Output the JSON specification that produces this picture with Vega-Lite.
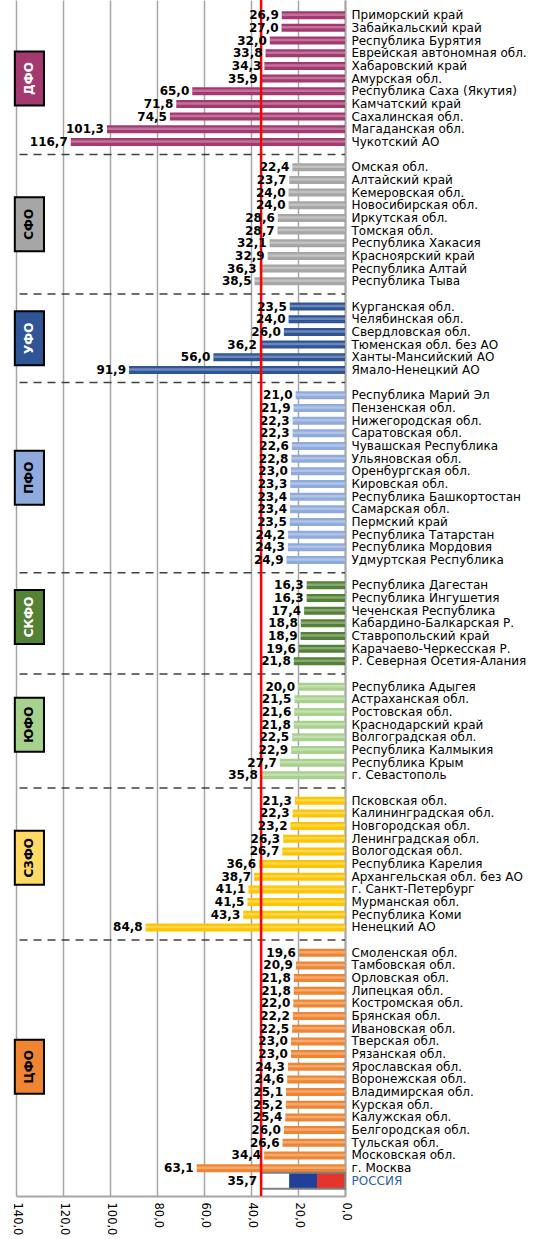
{
  "$schema": "https://vega.github.io/schema/vega-lite/v6.json",
  "width": 329,
  "height": 1196,
  "autosize": "none",
  "padding": {"left": 16, "top": 0, "right": 192, "bottom": 43},
  "config": {"view": {"stroke": null}, "font": "DejaVu Sans"},
  "datasets": {
    "regions": [
      {"region": "Приморский край", "value": 26.9, "grp": "ДФО"},
      {"region": "Забайкальский край", "value": 27.0, "grp": "ДФО"},
      {"region": "Республика Бурятия", "value": 32.0, "grp": "ДФО"},
      {"region": "Еврейская автономная обл.", "value": 33.8, "grp": "ДФО"},
      {"region": "Хабаровский край", "value": 34.3, "grp": "ДФО"},
      {"region": "Амурская обл.", "value": 35.9, "grp": "ДФО"},
      {"region": "Республика Саха (Якутия)", "value": 65.0, "grp": "ДФО"},
      {"region": "Камчатский край", "value": 71.8, "grp": "ДФО"},
      {"region": "Сахалинская обл.", "value": 74.5, "grp": "ДФО"},
      {"region": "Магаданская обл.", "value": 101.3, "grp": "ДФО"},
      {"region": "Чукотский АО", "value": 116.7, "grp": "ДФО"},
      {"region": "Омская обл.", "value": 22.4, "grp": "СФО"},
      {"region": "Алтайский край", "value": 23.7, "grp": "СФО"},
      {"region": "Кемеровская обл.", "value": 24.0, "grp": "СФО"},
      {"region": "Новосибирская обл.", "value": 24.0, "grp": "СФО"},
      {"region": "Иркутская обл.", "value": 28.6, "grp": "СФО"},
      {"region": "Томская обл.", "value": 28.7, "grp": "СФО"},
      {"region": "Республика Хакасия", "value": 32.1, "grp": "СФО"},
      {"region": "Красноярский край", "value": 32.9, "grp": "СФО"},
      {"region": "Республика Алтай", "value": 36.3, "grp": "СФО"},
      {"region": "Республика Тыва", "value": 38.5, "grp": "СФО"},
      {"region": "Курганская обл.", "value": 23.5, "grp": "УФО"},
      {"region": "Челябинская обл.", "value": 24.0, "grp": "УФО"},
      {"region": "Свердловская обл.", "value": 26.0, "grp": "УФО"},
      {"region": "Тюменская обл. без АО", "value": 36.2, "grp": "УФО"},
      {"region": "Ханты-Мансийский АО", "value": 56.0, "grp": "УФО"},
      {"region": "Ямало-Ненецкий АО", "value": 91.9, "grp": "УФО"},
      {"region": "Республика Марий Эл", "value": 21.0, "grp": "ПФО"},
      {"region": "Пензенская обл.", "value": 21.9, "grp": "ПФО"},
      {"region": "Нижегородская обл.", "value": 22.3, "grp": "ПФО"},
      {"region": "Саратовская обл.", "value": 22.3, "grp": "ПФО"},
      {"region": "Чувашская Республика", "value": 22.6, "grp": "ПФО"},
      {"region": "Ульяновская обл.", "value": 22.8, "grp": "ПФО"},
      {"region": "Оренбургская обл.", "value": 23.0, "grp": "ПФО"},
      {"region": "Кировская обл.", "value": 23.3, "grp": "ПФО"},
      {"region": "Республика Башкортостан", "value": 23.4, "grp": "ПФО"},
      {"region": "Самарская обл.", "value": 23.4, "grp": "ПФО"},
      {"region": "Пермский край", "value": 23.5, "grp": "ПФО"},
      {"region": "Республика Татарстан", "value": 24.2, "grp": "ПФО"},
      {"region": "Республика Мордовия", "value": 24.3, "grp": "ПФО"},
      {"region": "Удмуртская Республика", "value": 24.9, "grp": "ПФО"},
      {"region": "Республика Дагестан", "value": 16.3, "grp": "СКФО"},
      {"region": "Республика Ингушетия", "value": 16.3, "grp": "СКФО"},
      {"region": "Чеченская Республика", "value": 17.4, "grp": "СКФО"},
      {"region": "Кабардино-Балкарская Р.", "value": 18.8, "grp": "СКФО"},
      {"region": "Ставропольский край", "value": 18.9, "grp": "СКФО"},
      {"region": "Карачаево-Черкесская Р.", "value": 19.6, "grp": "СКФО"},
      {"region": "Р. Северная Осетия-Алания", "value": 21.8, "grp": "СКФО"},
      {"region": "Республика Адыгея", "value": 20.0, "grp": "ЮФО"},
      {"region": "Астраханская обл.", "value": 21.5, "grp": "ЮФО"},
      {"region": "Ростовская обл.", "value": 21.6, "grp": "ЮФО"},
      {"region": "Краснодарский край", "value": 21.8, "grp": "ЮФО"},
      {"region": "Волгоградская обл.", "value": 22.5, "grp": "ЮФО"},
      {"region": "Республика Калмыкия", "value": 22.9, "grp": "ЮФО"},
      {"region": "Республика Крым", "value": 27.7, "grp": "ЮФО"},
      {"region": "г. Севастополь", "value": 35.8, "grp": "ЮФО"},
      {"region": "Псковская обл.", "value": 21.3, "grp": "СЗФО"},
      {"region": "Калининградская обл.", "value": 22.3, "grp": "СЗФО"},
      {"region": "Новгородская обл.", "value": 23.2, "grp": "СЗФО"},
      {"region": "Ленинградская обл.", "value": 26.3, "grp": "СЗФО"},
      {"region": "Вологодская обл.", "value": 26.7, "grp": "СЗФО"},
      {"region": "Республика Карелия", "value": 36.6, "grp": "СЗФО"},
      {"region": "Архангельская обл. без АО", "value": 38.7, "grp": "СЗФО"},
      {"region": "г. Санкт-Петербург", "value": 41.1, "grp": "СЗФО"},
      {"region": "Мурманская обл.", "value": 41.5, "grp": "СЗФО"},
      {"region": "Республика Коми", "value": 43.3, "grp": "СЗФО"},
      {"region": "Ненецкий АО", "value": 84.8, "grp": "СЗФО"},
      {"region": "Смоленская обл.", "value": 19.6, "grp": "ЦФО"},
      {"region": "Тамбовская обл.", "value": 20.9, "grp": "ЦФО"},
      {"region": "Орловская обл.", "value": 21.8, "grp": "ЦФО"},
      {"region": "Липецкая обл.", "value": 21.8, "grp": "ЦФО"},
      {"region": "Костромская обл.", "value": 22.0, "grp": "ЦФО"},
      {"region": "Брянская обл.", "value": 22.2, "grp": "ЦФО"},
      {"region": "Ивановская обл.", "value": 22.5, "grp": "ЦФО"},
      {"region": "Тверская обл.", "value": 23.0, "grp": "ЦФО"},
      {"region": "Рязанская обл.", "value": 23.0, "grp": "ЦФО"},
      {"region": "Ярославская обл.", "value": 24.3, "grp": "ЦФО"},
      {"region": "Воронежская обл.", "value": 24.6, "grp": "ЦФО"},
      {"region": "Владимирская обл.", "value": 25.1, "grp": "ЦФО"},
      {"region": "Курская обл.", "value": 25.2, "grp": "ЦФО"},
      {"region": "Калужская обл.", "value": 25.4, "grp": "ЦФО"},
      {"region": "Белгородская обл.", "value": 26.0, "grp": "ЦФО"},
      {"region": "Тульская обл.", "value": 26.6, "grp": "ЦФО"},
      {"region": "Московская обл.", "value": 34.4, "grp": "ЦФО"},
      {"region": "г. Москва", "value": 63.1, "grp": "ЦФО"}
    ],
    "gaps": [
      {"region": "gap1"}, {"region": "gap2"}, {"region": "gap3"}, {"region": "gap4"},
      {"region": "gap5"}, {"region": "gap6"}, {"region": "gap7"}
    ],
    "russia": [{"region": "РОССИЯ", "value": 35.7}],
    "flag": [
      {"region": "РОССИЯ", "seg": "flag-red", "from": 0, "to": 11.9},
      {"region": "РОССИЯ", "seg": "flag-blue", "from": 11.9, "to": 23.8},
      {"region": "РОССИЯ", "seg": "flag-white", "from": 23.8, "to": 35.7}
    ],
    "boxes": [
      {"grp": "ДФО", "region": "Амурская обл.", "half": false},
      {"grp": "СФО", "region": "Иркутская обл.", "half": true},
      {"grp": "УФО", "region": "Свердловская обл.", "half": true},
      {"grp": "ПФО", "region": "Оренбургская обл.", "half": true},
      {"grp": "СКФО", "region": "Чеченская Республика", "half": true},
      {"grp": "ЮФО", "region": "Краснодарский край", "half": false},
      {"grp": "СЗФО", "region": "Вологодская обл.", "half": true},
      {"grp": "ЦФО", "region": "Ярославская обл.", "half": false}
    ]
  },
  "layer": [
    {
      "encoding": {
        "y": {
          "field": "region",
          "type": "nominal",
          "title": null,
          "scale": {
            "domain": ["Приморский край", "Забайкальский край", "Республика Бурятия", "Еврейская автономная обл.", "Хабаровский край", "Амурская обл.", "Республика Саха (Якутия)", "Камчатский край", "Сахалинская обл.", "Магаданская обл.", "Чукотский АО", "gap1",
              "Омская обл.", "Алтайский край", "Кемеровская обл.", "Новосибирская обл.", "Иркутская обл.", "Томская обл.", "Республика Хакасия", "Красноярский край", "Республика Алтай", "Республика Тыва", "gap2",
              "Курганская обл.", "Челябинская обл.", "Свердловская обл.", "Тюменская обл. без АО", "Ханты-Мансийский АО", "Ямало-Ненецкий АО", "gap3",
              "Республика Марий Эл", "Пензенская обл.", "Нижегородская обл.", "Саратовская обл.", "Чувашская Республика", "Ульяновская обл.", "Оренбургская обл.", "Кировская обл.", "Республика Башкортостан", "Самарская обл.", "Пермский край", "Республика Татарстан", "Республика Мордовия", "Удмуртская Республика", "gap4",
              "Республика Дагестан", "Республика Ингушетия", "Чеченская Республика", "Кабардино-Балкарская Р.", "Ставропольский край", "Карачаево-Черкесская Р.", "Р. Северная Осетия-Алания", "gap5",
              "Республика Адыгея", "Астраханская обл.", "Ростовская обл.", "Краснодарский край", "Волгоградская обл.", "Республика Калмыкия", "Республика Крым", "г. Севастополь", "gap6",
              "Псковская обл.", "Калининградская обл.", "Новгородская обл.", "Ленинградская обл.", "Вологодская обл.", "Республика Карелия", "Архангельская обл. без АО", "г. Санкт-Петербург", "Мурманская обл.", "Республика Коми", "Ненецкий АО", "gap7",
              "Смоленская обл.", "Тамбовская обл.", "Орловская обл.", "Липецкая обл.", "Костромская обл.", "Брянская обл.", "Ивановская обл.", "Тверская обл.", "Рязанская обл.", "Ярославская обл.", "Воронежская обл.", "Владимирская обл.", "Курская обл.", "Калужская обл.", "Белгородская обл.", "Тульская обл.", "Московская обл.", "г. Москва", "РОССИЯ"],
            "paddingInner": 0.33,
            "paddingOuter": 0.865
          },
          "axis": {
            "orient": "right",
            "ticks": false,
            "domainColor": "#A6A6A6",
            "domainWidth": 2,
            "labelFont": "DejaVu Sans",
            "labelFontSize": 12,
            "labelColor": {"condition": {"test": "datum.value == 'РОССИЯ'", "value": "#2E5FA8"}, "value": "#000000"},
            "labelExpr": "indexof(datum.value, 'gap') == 0 ? '' : datum.value",
            "labelPadding": 6,
            "labelLimit": 0,
            "labelOverlap": false,
            "labelAlign": "left",
            "labelBound": false
          }
        }
      },
      "layer": [
        {
          "data": {"name": "regions"},
          "mark": {"type": "bar", "height": 8},
          "encoding": {
            "x": {
              "field": "value",
              "type": "quantitative",
              "title": null,
              "scale": {"domain": [0, 140], "reverse": true, "nice": false},
              "axis": {
                "values": [0, 20, 40, 60, 80, 100, 120, 140],
                "labelExpr": "replace(format(datum.value, '.1f'), '.', ',')",
                "grid": true,
                "gridColor": "#A6A6A6",
                "gridWidth": 1.5,
                "ticks": false,
                "domainColor": "#A6A6A6",
                "domainWidth": 2,
                "labelAngle": 90,
                "labelAlign": "left",
                "labelBaseline": "middle",
                "labelFont": "DejaVu Sans",
                "labelFontSize": 11.5,
                "labelColor": "#000000",
                "labelPadding": 6,
                "labelOverlap": false,
                "labelBound": false,
                "labelFlush": false
              }
            },
            "color": {
              "field": "grp",
              "type": "nominal",
              "legend": null,
              "scale": {
                "domain": ["ЦФО", "СЗФО", "ЮФО", "СКФО", "ПФО", "УФО", "СФО", "ДФО", "flag-red", "flag-blue", "flag-white"],
                "range": ["#EF8533", "#FFC400", "#A9D18E", "#548235", "#8FAADC", "#2F5597", "#A6A6A6", "#A3396F", "#E3352A", "#22409A", "#FFFFFF"]
              }
            }
          }
        },
        {
          "data": {"name": "regions"},
          "mark": {"type": "bar", "height": 2.5, "yOffset": -0.5, "color": "#FFFFFF", "opacity": 0.3},
          "encoding": {
            "x": {"field": "value", "type": "quantitative", "title": null}
          }
        },
        {
          "data": {"name": "gaps"},
          "mark": {"type": "rule", "color": "#404040", "strokeWidth": 1.5, "strokeDash": [8, 6]},
          "encoding": {
            "x": {"datum": 138.5, "type": "quantitative", "title": null},
            "x2": {"datum": 0}
          }
        },
        {
          "data": {"name": "flag"},
          "mark": {"type": "bar", "height": 16},
          "encoding": {
            "x": {"field": "from", "type": "quantitative", "title": null},
            "x2": {"field": "to"},
            "color": {"field": "seg", "type": "nominal", "legend": null}
          }
        },
        {
          "data": {"name": "russia"},
          "mark": {"type": "bar", "height": 16, "fill": null, "fillOpacity": 0, "stroke": "#7F7F7F", "strokeWidth": 2},
          "encoding": {
            "x": {"field": "value", "type": "quantitative", "title": null}
          }
        }
      ]
    },
    {
      "data": {"values": [{}]},
      "mark": {"type": "rule", "color": "#FF0000", "strokeWidth": 2.5},
      "encoding": {"x": {"datum": 35.7, "type": "quantitative", "title": null}}
    },
    {
      "encoding": {
        "y": {"field": "region", "type": "nominal", "title": null}
      },
      "layer": [
        {
          "data": {"name": "regions"},
          "transform": [{"calculate": "replace(format(datum.value, '.1f'), '.', ',')", "as": "lbl"}],
          "mark": {"type": "text", "align": "right", "baseline": "middle", "dx": -3, "font": "DejaVu Sans", "fontSize": 12, "fontWeight": "bold", "color": "#000000"},
          "encoding": {
            "x": {"field": "value", "type": "quantitative", "title": null},
            "text": {"field": "lbl"}
          }
        },
        {
          "data": {"name": "russia"},
          "transform": [{"calculate": "replace(format(datum.value, '.1f'), '.', ',')", "as": "lbl"}],
          "mark": {"type": "text", "align": "right", "baseline": "middle", "dx": -4, "font": "DejaVu Sans", "fontSize": 12, "fontWeight": "bold", "color": "#000000"},
          "encoding": {
            "x": {"field": "value", "type": "quantitative", "title": null},
            "text": {"field": "lbl"}
          }
        },
        {
          "data": {"name": "boxes"},
          "transform": [{"filter": "!datum.half"}],
          "mark": {"type": "point", "shape": "M-0.54,-1H0.54V1H-0.54Z", "size": 2916, "filled": true, "opacity": 1, "stroke": "#000000", "strokeWidth": 2},
          "encoding": {
            "x": {"datum": 134.3, "type": "quantitative", "title": null},
            "color": {"condition": {"test": "datum.grp == 'СЗФО'", "value": "#FFD966"}, "field": "grp", "type": "nominal", "legend": null}
          }
        },
        {
          "data": {"name": "boxes"},
          "transform": [{"filter": "datum.half"}],
          "mark": {"type": "point", "shape": "M-0.54,-1H0.54V1H-0.54Z", "size": 2916, "filled": true, "opacity": 1, "stroke": "#000000", "strokeWidth": 2, "yOffset": 6.33},
          "encoding": {
            "x": {"datum": 134.3, "type": "quantitative", "title": null},
            "color": {"condition": {"test": "datum.grp == 'СЗФО'", "value": "#FFD966"}, "field": "grp", "type": "nominal", "legend": null}
          }
        },
        {
          "data": {"name": "boxes"},
          "transform": [{"filter": "!datum.half"}],
          "mark": {"type": "text", "angle": 270, "align": "center", "baseline": "middle", "font": "DejaVu Sans", "fontSize": 12, "fontWeight": "bold"},
          "encoding": {
            "x": {"datum": 134.3, "type": "quantitative", "title": null},
            "text": {"field": "grp"},
            "color": {"condition": {"test": "indexof(['ДФО','СКФО','УФО'], datum.grp) >= 0", "value": "#FFFFFF"}, "value": "#000000"}
          }
        },
        {
          "data": {"name": "boxes"},
          "transform": [{"filter": "datum.half"}],
          "mark": {"type": "text", "angle": 270, "align": "center", "baseline": "middle", "font": "DejaVu Sans", "fontSize": 12, "fontWeight": "bold", "yOffset": 6.33},
          "encoding": {
            "x": {"datum": 134.3, "type": "quantitative", "title": null},
            "text": {"field": "grp"},
            "color": {"condition": {"test": "indexof(['ДФО','СКФО','УФО'], datum.grp) >= 0", "value": "#FFFFFF"}, "value": "#000000"}
          }
        }
      ]
    }
  ]
}
